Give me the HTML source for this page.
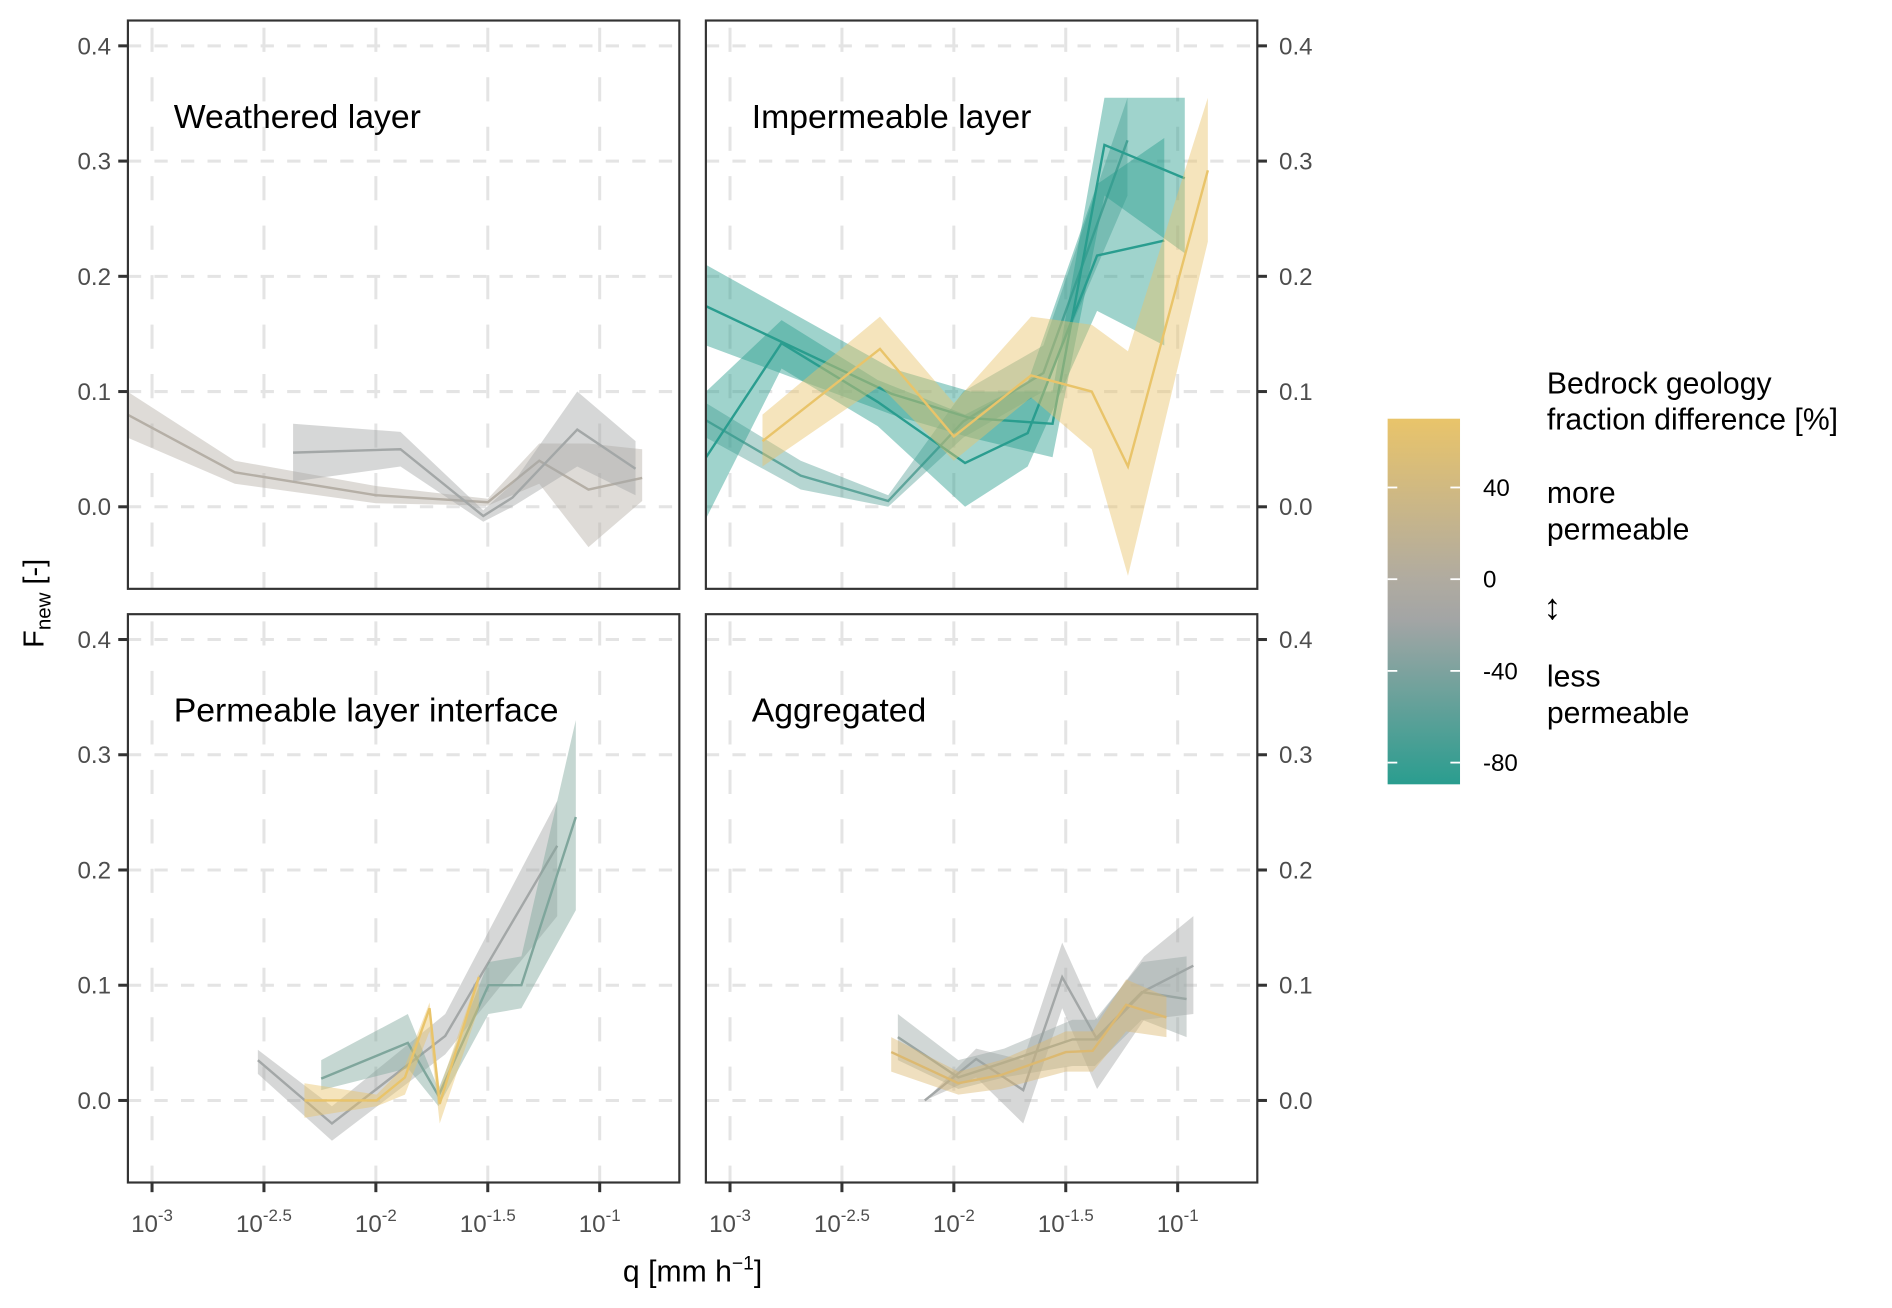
<!DOCTYPE html>
<html><head><meta charset="utf-8"><style>
html,body{margin:0;padding:0;background:#fff;}
svg{display:block;font-family:"Liberation Sans",Arial,sans-serif;}
</style></head><body>
<svg id="chart" width="1892" height="1308" viewBox="0 0 1568 1084" preserveAspectRatio="none" xmlns="http://www.w3.org/2000/svg">
<defs>
<linearGradient id="cbar" x1="0" y1="0" x2="0" y2="1">
<stop offset="0" stop-color="#e9c46a"/>
<stop offset="0.44" stop-color="#b0aba0"/>
<stop offset="0.55" stop-color="#a3a5a5"/>
<stop offset="1" stop-color="#2a9d8f"/>
</linearGradient>
</defs>
<g id="panels"></g>
<text transform="translate(36,500) rotate(-90)" text-anchor="middle" font-size="24" fill="#000">F<tspan font-size="17" dy="6">new</tspan><tspan dy="-6"> [-]</tspan></text>
<text x="574" y="1062" text-anchor="middle" font-size="25" fill="#000">q [mm h<tspan font-size="16" dy="-10">−1</tspan><tspan dy="10">]</tspan></text>
<g>
<rect x="1150" y="347" width="60" height="303" fill="url(#cbar)"/>
<g id="cbticks"></g>
<text x="1282" y="326" font-size="25" fill="#000">Bedrock geology</text>
<text x="1282" y="356" font-size="25" fill="#000">fraction difference [%]</text>
<text x="1282" y="417" font-size="25" fill="#000">more</text>
<text x="1282" y="447" font-size="25" fill="#000">permeable</text>
<text x="1279" y="513" font-size="30" fill="#000">↕</text>
<text x="1282" y="569" font-size="25" fill="#000">less</text>
<text x="1282" y="599" font-size="25" fill="#000">permeable</text>
</g>
</svg>
<script>
const yTicks = [0.0, 0.1, 0.2, 0.3, 0.4];
const yTickLabels = ["0.0","0.1","0.2","0.3","0.4"];
const xTicks = [-3, -2.5, -2, -1.5, -1];
const xTickExp = ["-3","-2.5","-2","-1.5","-1"];
const cbValues = [40, 0, -40, -80];
const cbLabels = ["40","0","-40","-80"];
const panelTitles = ["Weathered layer","Impermeable layer","Permeable layer interface","Aggregated"];

// Weathered layer
const w1_q  = [-3.11,-2.63,-2.0,-1.5,-1.27,-1.05,-0.81];
const w1_f  = [0.080,0.030,0.010,0.004,0.040,0.015,0.025];
const w1_lo = [0.060,0.020,0.003,0.001,0.020,-0.035,0.005];
const w1_hi = [0.100,0.040,0.018,0.007,0.055,0.055,0.050];
const w2_q  = [-2.37,-1.89,-1.52,-1.39,-1.10,-0.84];
const w2_f  = [0.047,0.050,-0.008,0.008,0.067,0.033];
const w2_lo = [0.022,0.035,-0.013,0.000,0.035,0.010];
const w2_hi = [0.072,0.065,-0.003,0.020,0.100,0.057];
// Impermeable layer
const i1_q  = [-3.107,-2.277,-1.926,-1.559,-1.327,-0.968];
const i1_f  = [0.174,0.098,0.077,0.072,0.314,0.285];
const i1_lo = [0.140,0.080,0.060,0.043,0.270,0.220];
const i1_hi = [0.210,0.120,0.100,0.100,0.355,0.355];
const i2_q  = [-3.107,-2.77,-2.34,-1.95,-1.67,-1.36,-1.06];
const i2_f  = [0.043,0.142,0.091,0.038,0.064,0.218,0.231];
const i2_lo = [-0.010,0.120,0.070,0.000,0.035,0.170,0.140];
const i2_hi = [0.100,0.162,0.110,0.080,0.108,0.280,0.320];
const i3_q  = [-3.107,-2.684,-2.293,-1.958,-1.60,-1.224];
const i3_f  = [0.075,0.027,0.005,0.074,0.116,0.318];
const i3_lo = [0.060,0.015,0.000,0.060,0.100,0.270];
const i3_hi = [0.090,0.040,0.010,0.100,0.140,0.355];
const i4_q  = [-2.855,-2.33,-2.0,-1.655,-1.384,-1.222,-0.865];
const i4_f  = [0.057,0.137,0.061,0.114,0.100,0.035,0.292];
const i4_lo = [0.035,0.105,0.040,0.095,0.050,-0.060,0.230];
const i4_hi = [0.080,0.165,0.090,0.165,0.158,0.135,0.355];
// Permeable layer interface
const p1_q  = [-2.527,-2.196,-1.69,-1.19];
const p1_f  = [0.035,-0.020,0.056,0.221];
const p1_lo = [0.023,-0.035,0.040,0.160];
const p1_hi = [0.044,-0.005,0.075,0.260];
const p2_q  = [-2.244,-1.857,-1.72,-1.497,-1.35,-1.107];
const p2_f  = [0.019,0.050,0.004,0.100,0.100,0.246];
const p2_lo = [0.009,0.028,-0.005,0.075,0.080,0.165];
const p2_hi = [0.035,0.075,0.010,0.120,0.125,0.330];
const p3_q  = [-2.319,-1.997,-1.87,-1.76,-1.715,-1.54];
const p3_f  = [0.000,0.000,0.020,0.080,-0.003,0.107];
const p3_lo = [-0.015,-0.005,0.005,0.060,-0.020,0.080];
const p3_hi = [0.015,0.005,0.030,0.085,0.010,0.110];
// Aggregated
const a1_q  = [-2.13,-1.90,-1.69,-1.516,-1.36,-1.15,-0.93];
const a1_f  = [0.000,0.036,0.009,0.107,0.053,0.095,0.117];
const a1_lo = [0.000,0.020,-0.020,0.080,0.010,0.070,0.075];
const a1_hi = [0.000,0.045,0.035,0.137,0.070,0.125,0.160];
const a2_q  = [-2.25,-1.98,-1.775,-1.47,-1.37,-1.16,-0.96];
const a2_f  = [0.055,0.020,0.033,0.053,0.053,0.094,0.088];
const a2_lo = [0.035,0.010,0.020,0.030,0.030,0.070,0.055];
const a2_hi = [0.075,0.035,0.045,0.070,0.070,0.120,0.125];
const a3_q  = [-2.28,-1.98,-1.79,-1.50,-1.38,-1.23,-1.05];
const a3_f  = [0.042,0.015,0.022,0.042,0.043,0.083,0.072];
const a3_lo = [0.025,0.005,0.010,0.025,0.025,0.060,0.055];
const a3_hi = [0.055,0.025,0.035,0.060,0.060,0.105,0.090];

const GREYB="#b5afa6", GREY="#a3a7a7", TEAL="#2a9d8f", TEALG="#5ea59b", SAGE="#7fa69c", YEL="#e9c46a";
const panelSeries = [
 [[w1_q,w1_f,w1_lo,w1_hi,GREYB,"weathered-series-1"],[w2_q,w2_f,w2_lo,w2_hi,GREY,"weathered-series-2"]],
 [[i3_q,i3_f,i3_lo,i3_hi,TEALG,"impermeable-series-3"],[i1_q,i1_f,i1_lo,i1_hi,TEAL,"impermeable-series-1"],[i2_q,i2_f,i2_lo,i2_hi,TEAL,"impermeable-series-2"],[i4_q,i4_f,i4_lo,i4_hi,YEL,"impermeable-series-yellow"]],
 [[p1_q,p1_f,p1_lo,p1_hi,GREY,"interface-series-1"],[p2_q,p2_f,p2_lo,p2_hi,SAGE,"interface-series-2"],[p3_q,p3_f,p3_lo,p3_hi,YEL,"interface-series-yellow"]],
 [[a1_q,a1_f,a1_lo,a1_hi,GREY,"aggregated-series-1"],[a2_q,a2_f,a2_lo,a2_hi,"#9aa6a3","aggregated-series-2"],[a3_q,a3_f,a3_lo,a3_hi,"#dcb971","aggregated-series-yellow"]]
];

const NS="http://www.w3.org/2000/svg";
function mk(tag, attrs, parent){const e=document.createElementNS(NS,tag);for(const k in attrs)e.setAttribute(k,attrs[k]);if(parent)parent.appendChild(e);return e;}
const root=document.getElementById('panels');
const boxes=[[106,17],[585,17],[106,509],[585,509]];
const PW=457, PH=471;
boxes.forEach((b,pi)=>{
  const [px,py]=b;
  const xOff=20, xPerDec=185.5;
  const sx=v=>px+xOff+(v+3)*xPerDec;
  const y0=py+403, yPer=955;
  const sy=v=>y0-v*yPer;
  const g=mk('g',{},root);
  
  
  const clipId='clip'+pi;
  const cp=mk('clipPath',{id:clipId},g); mk('rect',{x:px,y:py,width:PW,height:PH},cp);
  yTicks.forEach(t=>{const l=mk('line',{x1:px,x2:px+PW,y1:sy(t),y2:sy(t),stroke:"#e4e4e4","stroke-width":2.5,"stroke-dasharray":"11 11"},g);
    });
  xTicks.forEach(t=>{const l=mk('line',{x1:sx(t),x2:sx(t),y1:py,y2:py+PH,stroke:"#e4e4e4","stroke-width":2.5,"stroke-dasharray":"20 21","stroke-dashoffset":"-6"},g);
    });
  const dg=mk('g',{"clip-path":"url(#"+clipId+")"},g);
  panelSeries[pi].forEach(s=>{
    const [q,f,lo,hi,col,name]=s;
    let d="";
    q.forEach((v,i)=>{d+=(i?"L":"M")+sx(v).toFixed(1)+","+sy(hi[i]).toFixed(1);});
    for(let i=q.length-1;i>=0;i--)d+="L"+sx(q[i]).toFixed(1)+","+sy(lo[i]).toFixed(1);
    d+="Z";
    const band=mk('path',{d:d,fill:col,"fill-opacity":0.45},dg);
    
    
    const pts=q.map((v,i)=>sx(v).toFixed(1)+","+sy(f[i]).toFixed(1)).join(" ");
    const ln=mk('polyline',{points:pts,fill:"none",stroke:col,"stroke-width":2},dg);
    
    
  });
  const t=mk('text',{x:px+38,y:py+89,"font-size":28,fill:"#000"},g);
  t.textContent=panelTitles[pi];
  
  
  const fr=mk('rect',{x:px,y:py,width:PW,height:PH,fill:"none",stroke:"#333","stroke-width":1.8},g);
  
  
  const right=(pi%2===1);
  yTicks.forEach((tv,i)=>{
    const yy=sy(tv);
    const tk=right?mk('line',{x1:px+PW,x2:px+PW+8,y1:yy,y2:yy,stroke:"#333","stroke-width":2.5},g):mk('line',{x1:px-8,x2:px,y1:yy,y2:yy,stroke:"#333","stroke-width":2.5},g);
    
    
    const lb=right?mk('text',{x:px+PW+18,y:yy+7,"font-size":20,fill:"#4d4d4d"},g):mk('text',{x:px-14,y:yy+7,"font-size":20,fill:"#4d4d4d","text-anchor":"end"},g);
    lb.textContent=yTickLabels[i];
    
    
  });
  if(pi>=2){
    xTicks.forEach((tv,i)=>{
      const xx=sx(tv);
      const tk=mk('line',{x1:xx,x2:xx,y1:py+PH,y2:py+PH+8,stroke:"#333","stroke-width":2.5},g);
      
      
      const lb=mk('text',{x:xx,y:py+PH+41,"font-size":20,fill:"#4d4d4d","text-anchor":"middle"},g);
      lb.innerHTML='10<tspan font-size="14" dy="-9">'+xTickExp[i]+'</tspan>';
      
      
    });
  }
});
const cbg=document.getElementById('cbticks');
cbValues.forEach((v,i)=>{
  const yy=480-(v/40)*76;
  const a=mk('line',{x1:1150,x2:1158,y1:yy,y2:yy,stroke:"#fff","stroke-width":1.5},cbg);
  
  
  const b=mk('line',{x1:1202,x2:1210,y1:yy,y2:yy,stroke:"#fff","stroke-width":1.5},cbg);
  
  
  const t=mk('text',{x:1229,y:yy+7,"font-size":20,fill:"#000"},cbg);
  t.textContent=cbLabels[i];
  
  
});
</script>
</body></html>
